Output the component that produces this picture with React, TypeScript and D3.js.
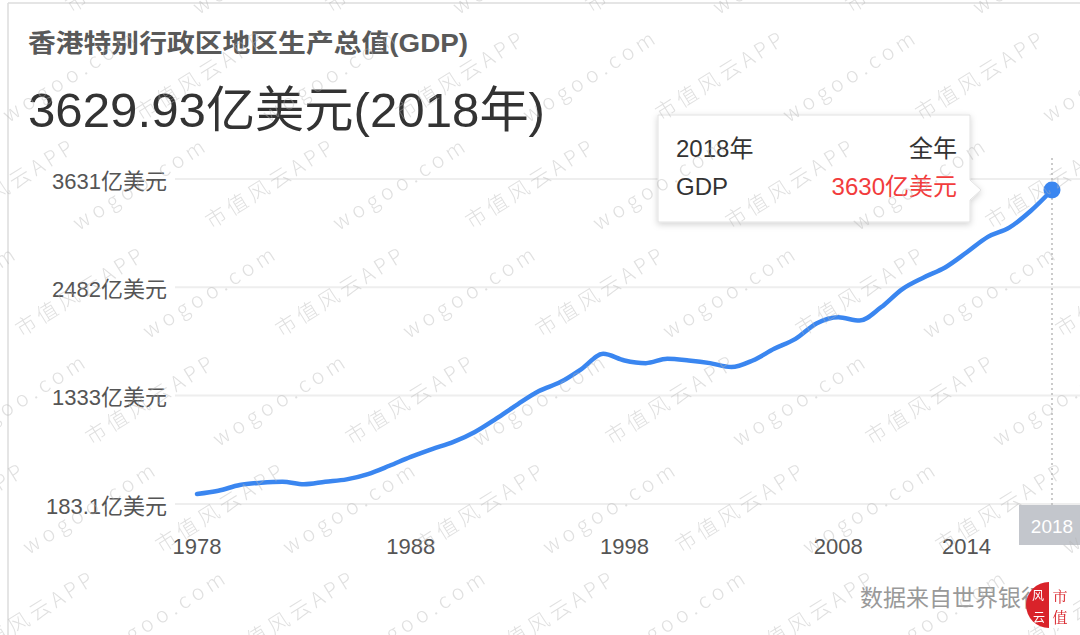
import React from "react";
import * as d3 from "d3";

const years = [1978,1979,1980,1981,1982,1983,1984,1985,1986,1987,1988,1989,1990,1991,1992,1993,1994,1995,1996,1997,1998,1999,2000,2001,2002,2003,2004,2005,2006,2007,2008,2009,2010,2011,2012,2013,2014,2015,2016,2017,2018];
const gdp = [183.1,220,285,311,322,293,322,349,409,503,605,692,774,887,1038,1200,1350,1452,1603,1773,1697,1667,1716,1697,1667,1622,1697,1829,1942,2119,2187,2149,2300,2507,2639,2752,2921,3098,3203,3392,3630];
const yTicks = [183.1, 1333, 2482, 3631];
const yTickLabels = ["183.1亿美元", "1333亿美元", "2482亿美元", "3631亿美元"];
const xTicks = [1978, 1988, 1998, 2008, 2014];
const highlightYear = 2018;
const title = "香港特别行政区地区生产总值(GDP)";
const headline = "3629.93亿美元(2018年)";
const tipYear = "2018年";
const tipPeriod = "全年";
const tipName = "GDP";
const tipValue = "3630亿美元";
const source = "数据来自世界银行";
const watermarks = ["wogoo.com", "市值风云APP"];

const FONT = '"Liberation Sans", "Noto Sans CJK SC", sans-serif';

export default function App() {
  const W = 1080, H = 635;
  const x = d3.scaleLinear().domain([1978, 2018]).range([197, 1052]);
  const y = d3.scaleLinear().domain([183.1, 3630]).range([494, 190]);
  const gy = d3.scaleLinear().domain([183.1, 3631]).range([504, 179]);
  const line = d3.line<number>()
    .x((_, i) => x(years[i]))
    .y((d) => y(d))
    .curve(d3.curveMonotoneX);
  const last = gdp.length - 1;
  const px = x(years[last]);
  const py = y(gdp[last]);

  // watermark lattice
  const wm: { x: number; y: number; t: string }[] = [];
  for (let r = -2; r <= 5; r++) {
    const yy = 182 + r * 108;
    const xs = 400 - 60 * r;
    for (let k = -5; k <= 9; k++) {
      const xx = xs + 130 * k;
      if (xx < -60 || xx > 1140) continue;
      const t = watermarks[Math.abs((k + r) % 2)];
      wm.push({ x: xx, y: yy, t });
    }
  }

  const tipL = 658, tipR = 970, tipT = 115, tipB = 222;
  const notchY = py;
  const tipPath = `M${tipL},${tipT} H${tipR} V${notchY - 10} L${tipR + 11},${notchY} L${tipR},${notchY + 10} V${tipB} H${tipL} Z`;

  return (
    <svg width={W} height={H} style={{ position: "fixed", left: 0, top: 0, background: "#fff" }} fontFamily={FONT}>
      <defs>
        <filter id="sh" x="-10%" y="-10%" width="120%" height="130%">
          <feDropShadow dx="0" dy="2" stdDeviation="3" floodColor="#000" floodOpacity="0.18" />
        </filter>
        <clipPath id="clip"><rect x={0} y={0} width={W} height={H} /></clipPath>
      </defs>
      <rect x={0} y={0} width={W} height={H} fill="#fff" />
      {/* frame */}
      <line x1={8} x2={W} y1={3} y2={3} stroke="#ddd" strokeWidth={1.5} />
      <line x1={8} x2={8} y1={3} y2={H} stroke="#ddd" strokeWidth={1.5} />

      <text x={28} y={52} fontSize={25} fontWeight="bold" fill="#595959" textLength={440} lengthAdjust="spacingAndGlyphs">{title}</text>
      <text x={28} y={127} fontSize={49} fill="#333" textLength={517} lengthAdjust="spacingAndGlyphs">{headline}</text>

      {/* grid */}
      {yTicks.map((v, i) => (
        <g key={i}>
          <line x1={175} x2={W} y1={gy(v)} y2={gy(v)} stroke="#eeeeee" strokeWidth={2} />
          <text x={167} y={gy(v) + 2} textAnchor="end" dominantBaseline="central" fontSize={22} fill="#555">{yTickLabels[i]}</text>
        </g>
      ))}

      {/* x labels */}
      {xTicks.map((t) => (
        <text key={t} x={x(t)} y={554} textAnchor="middle" fontSize={22} fill="#555">{t}</text>
      ))}
      <line x1={px} x2={px} y1={158} y2={505} stroke="#bbb" strokeWidth={1.5} strokeDasharray="2,3" />
      <rect x={x(highlightYear) - 33} y={505} width={66} height={40} fill="#c3c6cc" />
      <text x={x(highlightYear)} y={526} textAnchor="middle" dominantBaseline="central" fontSize={19} fill="#fff">{highlightYear}</text>

      {/* line */}
      <path d={line(gdp) || ""} fill="none" stroke="#3a86f0" strokeWidth={4.5} strokeLinejoin="round" strokeLinecap="round" />
      <circle cx={px} cy={py} r={8.5} fill="#3a86f0" />

      {/* tooltip */}
      <path d={tipPath} fill="#fff" stroke="#e2e2e2" strokeWidth={1} filter="url(#sh)" />
      <text x={676} y={157} fontSize={24} fill="#333">{tipYear}</text>
      <text x={957} y={157} fontSize={24} fill="#333" textAnchor="end">{tipPeriod}</text>
      <text x={676} y={195} fontSize={24} fill="#333">{tipName}</text>
      <text x={957} y={195} fontSize={24} fill="#f23c3c" textAnchor="end">{tipValue}</text>

      {/* source */}
      <text x={860} y={606} fontSize={23} fill="#999">{source}</text>

      {/* watermark */}
      <g pointerEvents="none" fill="#b5b5b5" opacity={0.42} fontFamily='"Noto Sans CJK SC", sans-serif' clipPath="url(#clip)">
        {wm.map((d, i) => (
          <text key={i} x={0} y={0} transform={`translate(${d.x},${d.y}) rotate(-32)`} textAnchor="middle" dominantBaseline="central" fontSize={21} fontWeight={300} letterSpacing={d.t === "wogoo.com" ? 5 : 4}>{d.t}</text>
        ))}
      </g>

      {/* logo */}
      <path d={`M1049,582 A23,23 0 0 0 1049,628 Z`} fill="#d9232a" />
      <text x={1038} y={594} textAnchor="middle" fontSize={12} fill="#fff" fontFamily='"Noto Sans CJK SC", serif' dominantBaseline="central">风</text>
      <text x={1039} y={616} textAnchor="middle" fontSize={12} fill="#fff" fontFamily='"Noto Sans CJK SC", serif' dominantBaseline="central">云</text>
      <rect x={1049} y={582} width={24} height={46} fill="#fff" />
      <text x={1060} y={595} textAnchor="middle" fontSize={15} fill="#d9232a" fontFamily='"Noto Serif CJK SC", "Noto Sans CJK SC", serif' dominantBaseline="central">市</text>
      <text x={1060} y={616} textAnchor="middle" fontSize={15} fill="#d9232a" fontFamily='"Noto Serif CJK SC", "Noto Sans CJK SC", serif' dominantBaseline="central">值</text>
    </svg>
  );
}
